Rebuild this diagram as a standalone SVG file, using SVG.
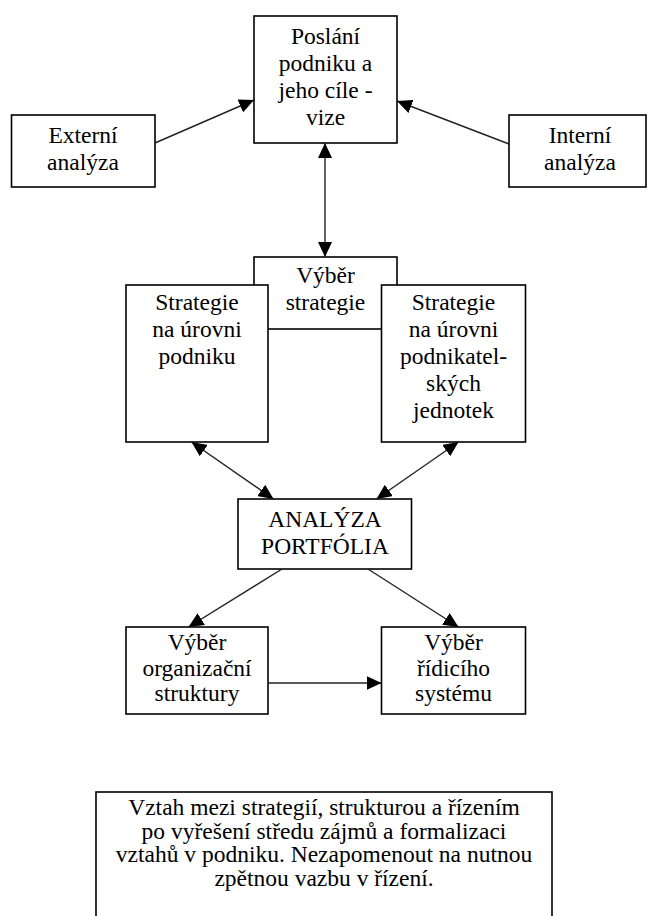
<svg xmlns="http://www.w3.org/2000/svg" width="648" height="916" viewBox="0 0 648 916">
  <style>
    .box { fill: #fff; stroke: #000; stroke-width: 1.6; }
    .lbl { font-family: "Liberation Serif", "Times New Roman", Times, serif; font-size: 23.5px; fill: #000; text-anchor: middle; }
    .conn { stroke: #222; stroke-width: 1.4; fill: none; marker-end: url(#head); }
    .both { marker-start: url(#head); }
  </style>
  <defs>
    <marker id="head" viewBox="0 0 15 14" refX="15" refY="7" markerWidth="15" markerHeight="14" markerUnits="userSpaceOnUse" orient="auto-start-reverse">
      <path d="M0,0 L15,7 L0,14 z" fill="#000"/>
    </marker>
  </defs>
  <rect width="648" height="916" fill="#fff"/>

  <g id="poslani">
    <rect class="box" x="254" y="16" width="143" height="127"/>
    <text class="lbl"><tspan x="325.5" y="44">Poslání</tspan><tspan x="325.5" y="71">podniku a</tspan><tspan x="325.5" y="98">jeho cíle -</tspan><tspan x="325.5" y="125">vize</tspan></text>
  </g>

  <g id="externi">
    <rect class="box" x="11.5" y="115" width="143.5" height="72"/>
    <text class="lbl"><tspan x="83" y="143">Externí</tspan><tspan x="83" y="170">analýza</tspan></text>
  </g>

  <g id="interni">
    <rect class="box" x="509" y="115" width="137" height="72"/>
    <text class="lbl"><tspan x="580" y="143">Interní</tspan><tspan x="580" y="170">analýza</tspan></text>
  </g>

  <g id="vyber-strategie">
    <rect class="box" x="254" y="257" width="143" height="72"/>
    <text class="lbl"><tspan x="325.5" y="283">Výběr</tspan><tspan x="325.5" y="310">strategie</tspan></text>
  </g>

  <g id="strategie-podnik">
    <rect class="box" x="126" y="285" width="142" height="157"/>
    <text class="lbl"><tspan x="197" y="310">Strategie</tspan><tspan x="197" y="337">na úrovni</tspan><tspan x="197" y="364">podniku</tspan></text>
  </g>

  <g id="strategie-jednotky">
    <rect class="box" x="381.5" y="285" width="144" height="157"/>
    <text class="lbl"><tspan x="453.5" y="310">Strategie</tspan><tspan x="453.5" y="337">na úrovni</tspan><tspan x="453.5" y="364">podnikatel-</tspan><tspan x="453.5" y="391">ských</tspan><tspan x="453.5" y="418">jednotek</tspan></text>
  </g>

  <g id="analyza-portfolia">
    <rect class="box" x="238" y="499" width="173.5" height="70"/>
    <text class="lbl"><tspan x="325" y="527">ANALÝZA</tspan><tspan x="325" y="554">PORTFÓLIA</tspan></text>
  </g>

  <g id="organizacni-struktura">
    <rect class="box" x="126" y="627" width="142" height="87"/>
    <text class="lbl"><tspan x="197" y="650">Výběr</tspan><tspan x="197" y="675.5">organizační</tspan><tspan x="197" y="701">struktury</tspan></text>
  </g>

  <g id="ridici-system">
    <rect class="box" x="381.5" y="627" width="144" height="87"/>
    <text class="lbl"><tspan x="453.5" y="650">Výběr</tspan><tspan x="453.5" y="675.5">řídicího</tspan><tspan x="453.5" y="701">systému</tspan></text>
  </g>

  <g id="poznamka">
    <rect class="box" x="96" y="792" width="456" height="140"/>
    <text class="lbl"><tspan x="324" y="815">Vztah mezi strategií, strukturou a řízením</tspan><tspan x="324" y="838.5">po vyřešení středu zájmů a formalizaci</tspan><tspan x="324" y="862">vztahů v podniku. Nezapomenout na nutnou</tspan><tspan x="324" y="885.5">zpětnou vazbu v řízení.</tspan></text>
  </g>

  <g id="connectors">
    <line class="conn" x1="155" y1="143" x2="254" y2="100"/>
    <line class="conn" x1="509" y1="144" x2="397" y2="101"/>
    <line class="conn both" x1="325" y1="143" x2="325" y2="257"/>
    <line class="conn both" x1="191.5" y1="442" x2="273.5" y2="499"/>
    <line class="conn both" x1="458.5" y1="442" x2="376.5" y2="499"/>
    <line class="conn" x1="282" y1="569" x2="188.5" y2="627"/>
    <line class="conn" x1="368" y1="569" x2="458.5" y2="627"/>
    <line class="conn" x1="268" y1="683" x2="381.5" y2="683"/>
  </g>
</svg>
